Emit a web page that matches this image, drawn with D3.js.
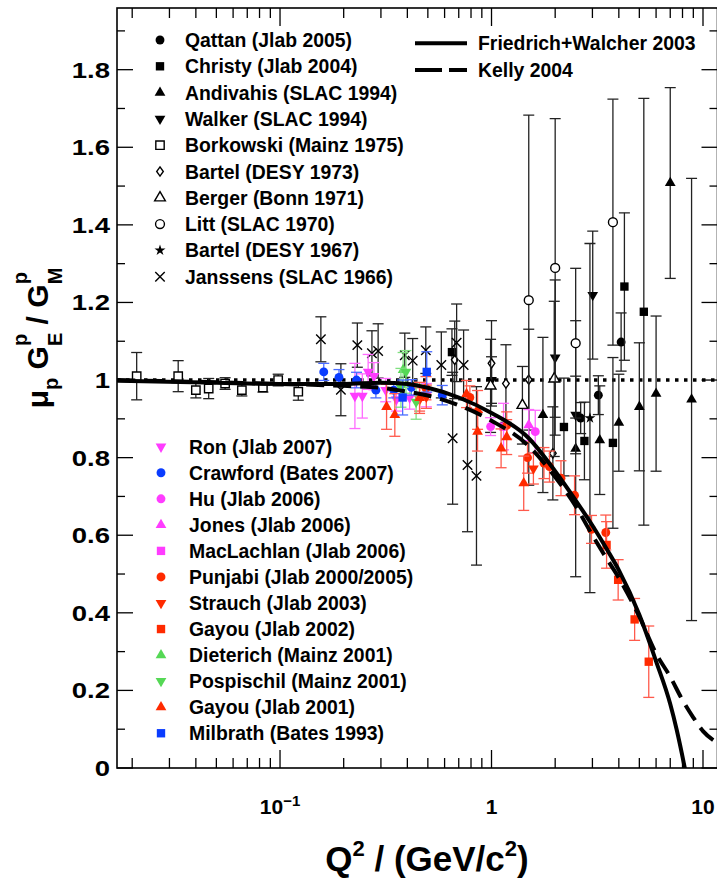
<!DOCTYPE html>
<html>
<head>
<meta charset="utf-8">
<script src="https://cdn.jsdelivr.net/npm/d3@7"></script>
<style>
  body { margin: 0; background: #fff; }
  svg { display: block; font-family: "Liberation Sans", Arial, Helvetica, sans-serif; font-weight: bold; }
  text { white-space: pre; }
</style>
</head>
<body>
<div id="chart"></div>
<script>
/*
 * data
 */
// black points
const qattanQ2 = [2.64, 3.20, 4.10]
const qattanR = [0.902, 0.961, 1.098]
const qattanErr = [0.04, 0.05, 0.075]

const christyQ2 = [0.65, 2.20, 2.75, 3.75, 4.25, 5.25]
const christyR = [1.072, 0.879, 0.843, 0.838, 1.241, 1.176]
const christyErr = [0.06, 0.126, 0.10, 0.22, 0.19, 0.55]

const andivahisQ2 = [1.75, 2.50, 3.25, 4.00, 5.00, 6.00, 7.00, 8.83]
const andivahisR = [0.910, 0.823, 0.845, 0.890, 0.931, 0.965, 1.508, 0.950]
const andivahisErr = [0.2, 0.33, 0.14, 0.125, 0.165, 0.20, 0.246, 0.57]

const walkerQ2 = [1.00, 2.00, 2.50, 3.01]
const walkerR = [1.000, 1.058, 0.910, 1.219]
const walkerErr = [0.06, 0.2, 0.1, 0.165]

const borkowskiQ2 = [0.021, 0.033, 0.040, 0.046, 0.055, 0.066, 0.083, 0.098, 0.122]
const borkowskiR = [1.010, 1.010, 0.974, 0.978, 0.991, 0.974, 0.981, 1.000, 0.970]
const borkowskiErr = [0.061, 0.040, 0.020, 0.026, 0.015, 0.015, 0.012, 0.015, 0.022]

const bartel73Q2 = [0.67, 1.00, 1.17, 1.50, 1.95]
const bartel73R = [1.052, 1.043, 0.991, 1.001, 0.811]
const bartel73Err = [0.10, 0.11, 0.10, 0.13, 0.12]

const bergerQ2 = [0.99, 1.40, 1.98]
const bergerR = [0.985, 0.935, 1.003]
const bergerErr = [0.12, 0.10, 0.20]

const littQ2 = [1.50, 2.00, 2.50, 3.75]
const littR = [1.206, 1.289, 1.095, 1.407]
const littErr = [0.477, 0.385, 0.193, 0.317]

const bartel67Q2 = [2.92]
const bartel67R = [0.902]
const bartel67Err = [0.45]

const janssensQ2 = [0.156, 0.194, 0.232, 0.272, 0.291, 0.389, 0.424, 0.489, 0.579, 0.655, 0.684, 0.738, 0.770, 0.849]
const janssensR = [1.105, 0.975, 1.090, 1.069, 1.075, 1.064, 1.050, 1.077, 1.039, 0.850, 1.096, 1.039, 0.781, 0.753]
const janssensErr = [0.058, 0.067, 0.057, 0.058, 0.070, 0.057, 0.057, 0.060, 0.085, 0.170, 0.100, 0.090, 0.172, 0.230]

// coloured points (polarisation data)
const ronQ2 = [0.226, 0.245, 0.261, 0.278, 0.316, 0.355, 0.410, 0.492]
const ronR = [0.959, 0.959, 1.021, 1.010, 0.974, 0.950, 0.955, 0.961]
const ronErr = [0.084, 0.057, 0.045, 0.035, 0.030, 0.030, 0.030, 0.030]

const crawfordQ2 = [0.161, 0.190, 0.230, 0.284, 0.345, 0.418, 0.585]
const crawfordR = [1.021, 1.007, 1.000, 0.974, 0.974, 0.981, 0.961]
const crawfordErr = [0.022, 0.020, 0.020, 0.020, 0.020, 0.020, 0.025]

const huQ2 = [0.99, 1.61]
const huR = [0.880, 0.867]
const huErr = [0.023, 0.055]

const jonesQ2 = [1.50]
const jonesR = [0.884]
const jonesErr = [0.04]

const maclachlanQ2 = [1.14]
const maclachlanR = [0.880]
const maclachlanErr = [0.06]

const punjabiQ2 = [0.49, 0.79, 1.18, 1.48, 1.77, 1.88, 2.13, 2.47, 2.97, 3.47]
const punjabiR = [0.979, 0.955, 0.883, 0.800, 0.786, 0.777, 0.747, 0.703, 0.615, 0.607]
const punjabiErr = [0.03, 0.03, 0.035, 0.04, 0.04, 0.04, 0.045, 0.05, 0.036, 0.045]

const strauchQ2 = [0.457, 0.492, 1.578]
const strauchR = [0.950, 0.957, 0.772]
const strauchErr = [0.03, 0.03, 0.04]

const gayou02Q2 = [3.50, 3.97, 4.75, 5.54]
const gayou02R = [0.575, 0.485, 0.383, 0.274]
const gayou02Err = [0.06, 0.052, 0.054, 0.092]

const dieterichQ2 = [0.382]
const dieterichR = [1.026]
const dieterichErr = [0.045]

const pospischilQ2 = [0.373, 0.394, 0.440]
const pospischilR = [0.980, 1.021, 0.944]
const pospischilErr = [0.05, 0.055, 0.045]

const gayou01Q2 = [0.319, 0.349, 0.457, 0.762, 0.859, 0.859, 1.11, 1.18, 1.42]
const gayou01R = [0.931, 0.910, 0.954, 0.964, 0.923, 0.867, 0.824, 0.853, 0.734]
const gayou01Err = [0.058, 0.055, 0.04, 0.035, 0.05, 0.05, 0.05, 0.045, 0.07]

const milbrathQ2 = [0.38, 0.494]
const milbrathR = [0.955, 1.021]
const milbrathErr = [0.045, 0.052]

// fit curves
const fwQ2 = [0.017, 0.05, 0.1, 0.2, 0.3, 0.4, 0.5, 0.7, 1.0, 1.5, 2.0, 2.5, 3.0, 3.5, 4.0, 5.0, 6.0, 7.0, 7.5, 8.2, 9.0]
const fwR = [0.998, 0.993, 0.99, 0.99, 0.993, 0.99, 0.98, 0.955, 0.915, 0.85, 0.765, 0.69, 0.625, 0.565, 0.51, 0.395, 0.275, 0.165, 0.1, 0.0, -0.12]
const kellyQ2 = [0.017, 0.1, 0.2, 0.3, 0.4, 0.5, 0.7, 1.0, 1.5, 2.0, 2.5, 3.0, 3.5, 4.0, 5.0, 6.0, 7.0, 8.0, 9.0, 10.0, 11.7]
const kellyR = [1.0, 0.99, 0.985, 0.98, 0.97, 0.96, 0.935, 0.895, 0.83, 0.75, 0.675, 0.6, 0.54, 0.49, 0.39, 0.295, 0.235, 0.175, 0.13, 0.095, 0.065]

const unityQ2 = [0.01695, 11.71]

// axis ticks
const yMajor = [0, 0.2, 0.4, 0.6, 0.8, 1, 1.2, 1.4, 1.6, 1.8]
const yMinor = [0.1, 0.3, 0.5, 0.7, 0.9, 1.1, 1.3, 1.5, 1.7, 1.9]
const xMajor = [0.1, 1, 10]
const xMinor = [0.02, 0.03, 0.04, 0.05, 0.06, 0.07, 0.08, 0.09,
  0.2, 0.3, 0.4, 0.5, 0.6, 0.7, 0.8, 0.9, 2, 3, 4, 5, 6, 7, 8, 9]

/*
 * styles for the series
 */
const RED = '#ff2a00', RED_BAR = '#ff5a4c'
const MAG = '#ff3cff', MAG_BAR = '#ff6cff'
const BLUE = '#0a3cff', BLUE_BAR = '#4a6cff'
const GREEN = '#55d855', GREEN_BAR = '#80e080'

const blackSeries = [
  { name: 'Qattan (Jlab 2005)', q: qattanQ2, r: qattanR, e: qattanErr, sym: 'circle' },
  { name: 'Christy (Jlab 2004)', q: christyQ2, r: christyR, e: christyErr, sym: 'square' },
  { name: 'Andivahis (SLAC 1994)', q: andivahisQ2, r: andivahisR, e: andivahisErr, sym: 'triUp' },
  { name: 'Walker (SLAC 1994)', q: walkerQ2, r: walkerR, e: walkerErr, sym: 'triDown' },
  { name: 'Borkowski (Mainz 1975)', q: borkowskiQ2, r: borkowskiR, e: borkowskiErr, sym: 'square', open: true },
  { name: 'Bartel (DESY 1973)', q: bartel73Q2, r: bartel73R, e: bartel73Err, sym: 'diamond', open: true },
  { name: 'Berger (Bonn 1971)', q: bergerQ2, r: bergerR, e: bergerErr, sym: 'triUp', open: true },
  { name: 'Litt (SLAC 1970)', q: littQ2, r: littR, e: littErr, sym: 'circle', open: true },
  { name: 'Bartel (DESY 1967)', q: bartel67Q2, r: bartel67R, e: bartel67Err, sym: 'star' },
  { name: 'Janssens (SLAC 1966)', q: janssensQ2, r: janssensR, e: janssensErr, sym: 'x' }
]
blackSeries.forEach(s => { s.color = '#000'; s.bar = '#222' })

const colorSeries = [
  { name: 'Ron (Jlab 2007)', q: ronQ2, r: ronR, e: ronErr, sym: 'triDown', color: MAG, bar: MAG_BAR },
  { name: 'Crawford (Bates 2007)', q: crawfordQ2, r: crawfordR, e: crawfordErr, sym: 'circle', color: BLUE, bar: BLUE_BAR },
  { name: 'Hu (Jlab 2006)', q: huQ2, r: huR, e: huErr, sym: 'circle', color: MAG, bar: MAG_BAR },
  { name: 'Jones (Jlab 2006)', q: jonesQ2, r: jonesR, e: jonesErr, sym: 'triUp', color: MAG, bar: MAG_BAR },
  { name: 'MacLachlan (Jlab 2006)', q: maclachlanQ2, r: maclachlanR, e: maclachlanErr, sym: 'square', color: MAG, bar: MAG_BAR },
  { name: 'Punjabi (Jlab 2000/2005)', q: punjabiQ2, r: punjabiR, e: punjabiErr, sym: 'circle', color: RED, bar: RED_BAR },
  { name: 'Strauch (Jlab 2003)', q: strauchQ2, r: strauchR, e: strauchErr, sym: 'triDown', color: RED, bar: RED_BAR },
  { name: 'Gayou (Jlab 2002)', q: gayou02Q2, r: gayou02R, e: gayou02Err, sym: 'square', color: RED, bar: RED_BAR },
  { name: 'Dieterich (Mainz 2001)', q: dieterichQ2, r: dieterichR, e: dieterichErr, sym: 'triUp', color: GREEN, bar: GREEN_BAR },
  { name: 'Pospischil (Mainz 2001)', q: pospischilQ2, r: pospischilR, e: pospischilErr, sym: 'triDown', color: GREEN, bar: GREEN_BAR },
  { name: 'Gayou (Jlab 2001)', q: gayou01Q2, r: gayou01R, e: gayou01Err, sym: 'triUp', color: RED, bar: RED_BAR },
  { name: 'Milbrath (Bates 1993)', q: milbrathQ2, r: milbrathR, e: milbrathErr, sym: 'square', color: BLUE, bar: BLUE_BAR }
]

/*
 * Initialize SVG
 */
const w = 717
const h = 879
const plotLeft = 117, plotRight = 717.5, plotTop = 8, plotBottom = 768

const svg = d3.select('#chart')
  .append('svg')
  .attr('width', w)
  .attr('height', h)

const x = d3.scaleLog().domain([0.01695, 11.71]).range([plotLeft, plotRight])
const y = d3.scaleLinear().domain([0, 1.959]).range([plotBottom, plotTop])

svg.append('clipPath')
  .attr('id', 'plot-clip')
  .append('rect')
  .attr('x', plotLeft).attr('y', plotTop)
  .attr('width', plotRight - plotLeft).attr('height', plotBottom - plotTop)

/*
 * markers
 */
function markerPath(sym) {
  switch (sym) {
    case 'circle': return d3.symbol(d3.symbolCircle, 62)()
    case 'square': return d3.symbol(d3.symbolSquare, 70)()
    case 'triUp':
    case 'triDown': return d3.symbol(d3.symbolTriangle, 50)()
    case 'diamond': return 'M0,-4.6L3.3,0L0,4.6L-3.3,0Z'
    case 'star': return d3.symbol(d3.symbolStar, 38)()
    case 'x': return d3.symbol(d3.symbolX, 60)()
  }
}

function drawMarker(g, s, px, py) {
  const p = g.append('path')
    .attr('d', markerPath(s.sym))
    .attr('transform', `translate(${px},${py})` + (s.sym == 'triDown' ? ' rotate(180)' : ''))
  if (s.sym == 'x') {
    p.attr('fill', 'none').attr('stroke', s.color).attr('stroke-width', 1.4)
  } else if (s.open) {
    p.attr('fill', '#fff').attr('stroke', s.color).attr('stroke-width', 1.4)
  } else {
    p.attr('fill', s.color)
  }
}

/*
 * frame and ticks
 */
const frame = svg.append('g').attr('id', 'frame')

frame.append('rect')
  .attr('x', plotLeft).attr('y', plotTop)
  .attr('width', plotRight - plotLeft).attr('height', plotBottom - plotTop)
  .attr('fill', 'none').attr('stroke', '#000').attr('stroke-width', 1.6)

function yTick(v, len) {
  frame.append('line')
    .attr('x1', plotLeft).attr('x2', plotLeft + len)
    .attr('y1', y(v)).attr('y2', y(v))
    .attr('stroke', '#000').attr('stroke-width', 1.3)
  frame.append('line')
    .attr('x1', plotRight).attr('x2', plotRight - len)
    .attr('y1', y(v)).attr('y2', y(v))
    .attr('stroke', '#000').attr('stroke-width', 1.3)
}
function xTick(v, len) {
  frame.append('line')
    .attr('x1', x(v)).attr('x2', x(v))
    .attr('y1', plotBottom).attr('y2', plotBottom - len)
    .attr('stroke', '#000').attr('stroke-width', 1.3)
  frame.append('line')
    .attr('x1', x(v)).attr('x2', x(v))
    .attr('y1', plotTop).attr('y2', plotTop + len)
    .attr('stroke', '#000').attr('stroke-width', 1.3)
}
yMajor.forEach(v => yTick(v, 16))
yMinor.forEach(v => yTick(v, 8))
xMajor.forEach(v => xTick(v, 18))
xMinor.forEach(v => xTick(v, 10))

// y tick labels
frame.selectAll('.ylab')
  .data(yMajor)
  .enter()
  .append('text')
  .attr('class', 'ylab')
  .attr('x', 110)
  .attr('y', d => y(d) + 8)
  .attr('text-anchor', 'end')
  .attr('font-size', 22)
  .attr('transform', 'translate(110,0) scale(1.25,1) translate(-110,0)')
  .text(d => d3.format('.1~f')(d))

// x tick labels
xMajor.forEach(v => {
  const t = frame.append('text')
    .attr('x', x(v))
    .attr('y', 814)
    .attr('text-anchor', 'middle')
    .attr('font-size', 21)
  if (v == 0.1) {
    t.append('tspan').text('10')
    t.append('tspan').attr('font-size', 15).attr('dy', -8).text('\u22121')
  } else {
    t.text(v)
  }
})

/*
 * rich text helper (super/subscripts placed by measuring)
 */
function richText(g, parts, size) {
  let cx = 0
  parts.forEach(p => {
    if (p.stack) {
      let wMax = 0
      p.stack.forEach(q => {
        const t = g.append('text').attr('x', cx).attr('y', q.dy)
          .attr('font-size', q.size).text(q.t)
        wMax = Math.max(wMax, t.node().getComputedTextLength())
      })
      cx += wMax
    } else {
      const t = g.append('text').attr('x', cx).attr('y', p.dy || 0)
        .attr('font-size', p.size || size).text(p.t)
      cx += t.node().getComputedTextLength()
    }
  })
  return cx
}

// x axis title
const xt = svg.append('g')
const xtw = richText(xt, [
  { t: 'Q' },
  { t: '2', size: 22, dy: -15 },
  { t: ' / (GeV/c' },
  { t: '2', size: 22, dy: -15 },
  { t: ')' }
], 35)
xt.attr('transform', `translate(${427 - xtw / 2},871)`)

// y axis title
const yt = svg.append('g')
const ytw = richText(yt, [
  { t: '\u03bc' },
  { t: 'p', size: 20, dy: 10 },
  { t: ' G' },
  { stack: [{ t: 'p', size: 20, dy: -21 }, { t: 'E', size: 20, dy: 14 }] },
  { t: ' / G' },
  { stack: [{ t: 'p', size: 20, dy: -21 }, { t: 'M', size: 20, dy: 14 }] }
], 30)
yt.attr('transform', `translate(48,${338 + ytw / 2}) rotate(-90)`)

/*
 * plot contents
 */
const plot = svg.append('g').attr('clip-path', 'url(#plot-clip)')

// unity line
plot.append('line')
  .attr('x1', x(unityQ2[0])).attr('x2', x(unityQ2[1]))
  .attr('y1', y(1)).attr('y2', y(1))
  .attr('stroke', '#000').attr('stroke-width', 3.5)
  .attr('stroke-dasharray', '3.5,5.5')

function drawSeries(s) {
  const g = plot.append('g')
  s.q.forEach((q, i) => {
    const px = x(q)
    const y0 = y(s.r[i] - s.e[i]), y1 = y(s.r[i] + s.e[i])
    g.append('line').attr('x1', px).attr('x2', px).attr('y1', y0).attr('y2', y1)
      .attr('stroke', s.bar).attr('stroke-width', 1.3)
    ;[y0, y1].forEach(yy => {
      g.append('line').attr('x1', px - 5.5).attr('x2', px + 5.5).attr('y1', yy).attr('y2', yy)
        .attr('stroke', s.bar).attr('stroke-width', 1.3)
    })
  })
  s.q.forEach((q, i) => drawMarker(g, s, x(q), y(s.r[i])))
}
blackSeries.forEach(drawSeries)
colorSeries.forEach(drawSeries)

// fits
const line = d3.line()
  .x(d => x(d[0]))
  .y(d => y(d[1]))
  .curve(d3.curveMonotoneX)

plot.append('path')
  .datum(fwQ2.map((q, i) => [q, fwR[i]]))
  .attr('d', line)
  .attr('fill', 'none').attr('stroke', '#000').attr('stroke-width', 4)

plot.append('path')
  .datum(kellyQ2.map((q, i) => [q, kellyR[i]]))
  .attr('d', line)
  .attr('fill', 'none').attr('stroke', '#000').attr('stroke-width', 4)
  .attr('stroke-dasharray', '18,9')

/*
 * legends
 */
const leg = svg.append('g')
blackSeries.forEach((s, i) => {
  const cy = 40 + 26.3 * i
  drawMarker(leg, s, 160, cy)
  leg.append('text').attr('x', 185).attr('y', cy + 7).attr('font-size', 19.4).text(s.name)
})
colorSeries.forEach((s, i) => {
  const cy = 446.7 + 26.05 * i
  drawMarker(leg, s, 161, cy)
  leg.append('text').attr('x', 189).attr('y', cy + 7).attr('font-size', 19.4).text(s.name)
})

const fitLegend = [
  { name: 'Friedrich+Walcher 2003', dash: null },
  { name: 'Kelly 2004', dash: '27,7' }
]
fitLegend.forEach((f, i) => {
  const cy = 43.3 + 26.7 * i
  const l = leg.append('line').attr('x1', 415).attr('x2', 467).attr('y1', cy).attr('y2', cy)
    .attr('stroke', '#000').attr('stroke-width', 4)
  if (f.dash) l.attr('stroke-dasharray', f.dash)
  leg.append('text').attr('x', 478).attr('y', cy + 7).attr('font-size', 19.4).text(f.name)
})
</script>
</body>
</html>
